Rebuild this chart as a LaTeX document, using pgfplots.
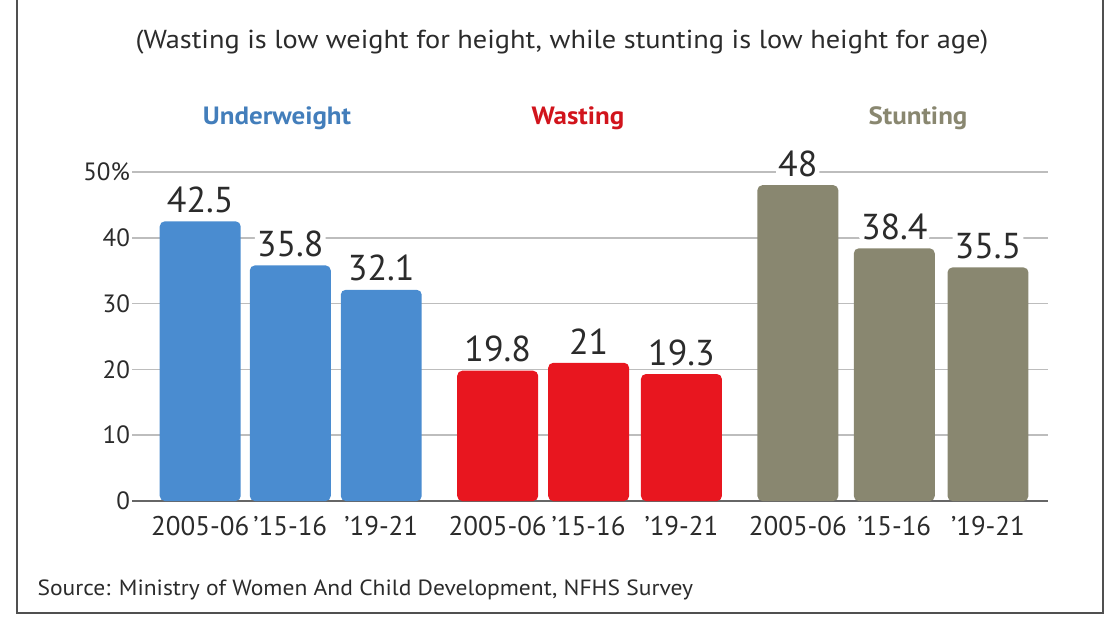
\documentclass[border=0pt]{standalone}
\usepackage{pgfplots}
\pgfplotsset{compat=1.18}
\usepackage{fontspec}
\setmainfont{PT Sans}

\definecolor{uwblue}{HTML}{4A8CD0}
\definecolor{wred}{HTML}{E8161F}
\definecolor{stgray}{HTML}{898770}
\definecolor{gridgray}{HTML}{BDBDBD}
\definecolor{axgray}{HTML}{666666}
\definecolor{txt}{HTML}{2B2B2B}
\definecolor{frame}{HTML}{505050}

\begin{document}
\begin{tikzpicture}[x=1pt,y=1pt]
\useasboundingbox (0,0) rectangle (553.5,308.5);
% frame
\draw[line width=1pt, frame] (8.5,308.5) -- (8.5,2) -- (551.5,2) -- (551.5,308.5);

% title, group labels, source
\node[txt, xscale=1.09, font=\fontsize{13}{15}\selectfont] at (281,287.5)
  {(Wasting is low weight for height, while stunting is low height for age)};
\node[font=\fontsize{12.5}{14}\bfseries, text=uwblue!90!black, xscale=1.08] at (138.5,249.5) {Underweight};
\node[font=\fontsize{12.5}{14}\bfseries, text=wred!90!black, xscale=1.08] at (289,249.5) {Wasting};
\node[font=\fontsize{12.5}{14}\bfseries, text=stgray, xscale=1.08] at (459,249.5) {Stunting};
\node[txt, anchor=west, xscale=1.07, font=\fontsize{11}{13}\selectfont] at (15,13.5)
  {Source: Ministry of Women And Child Development, NFHS Survey};

\begin{axis}[
  at={(66pt,58pt)}, anchor=south west,
  width=458pt, height=164.5pt, scale only axis,
  xmin=-0.75, xmax=9.32, ymin=0, ymax=50,
  clip=false,
  axis x line*=bottom, axis y line*=left,
  x axis line style={-, draw=axgray, line width=1pt},
  y axis line style={draw=none},
  major tick length=0pt,
  ytick={0,10,20,30,40,50},
  yticklabels={0,10,20,30,40,50\%},
  ymajorgrids,
  major grid style={draw=gridgray, line width=0.75pt},
  yticklabel style={font=\fontsize{12.5}{14}\selectfont, text=txt, xshift=2.5pt},
  xtick={0,0.99,1.99,3.27,4.27,5.29,6.57,7.63,8.66},
  xticklabels={2005-06,'15-16,'19-21,2005-06,'15-16,'19-21,2005-06,'15-16,'19-21},
  xticklabel style={font=\fontsize{13.5}{15}\selectfont, text=txt, yshift=-4pt},
  ybar, bar width=0.89,
  /pgf/number format/assume math mode=true,
  nodes near coords,
  every node near coord/.append style={font=\fontsize{18}{20}\selectfont,
    text=txt, fill=white, inner sep=1pt, yshift=3pt},
]
\addplot[fill=uwblue, draw=none, rounded corners=2.5pt, bar shift=0pt]
  coordinates {(0,42.5) (0.99,35.8) (1.99,32.1)};
\addplot[fill=wred, draw=none, rounded corners=2.5pt, bar shift=0pt]
  coordinates {(3.27,19.8) (4.27,21) (5.29,19.3)};
\addplot[fill=stgray, draw=none, rounded corners=2.5pt, bar shift=0pt]
  coordinates {(6.57,48) (7.63,38.4) (8.66,35.5)};
\end{axis}
\end{tikzpicture}
\end{document}
